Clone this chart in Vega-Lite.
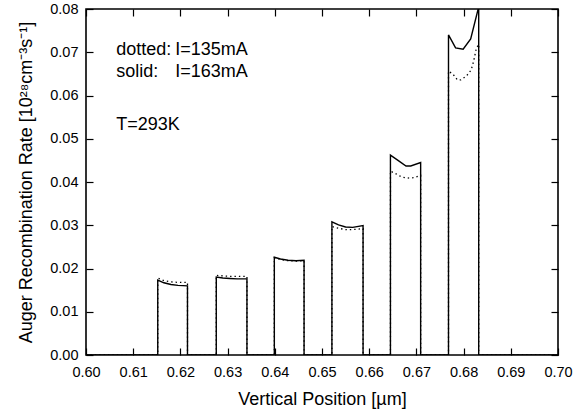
{
  "$schema": "https://vega.github.io/schema/vega-lite/v6.json",
  "autosize": {"type": "none"},
  "padding": {"left": 86, "top": 9, "right": 23, "bottom": 55},
  "width": 472,
  "height": 346,
  "background": "white",
  "config": {
    "view": {"stroke": "black", "strokeWidth": 1.6},
    "axis": {
      "grid": false,
      "domain": false,
      "ticks": true,
      "tickColor": "black",
      "tickWidth": 1.2,
      "tickSize": 7,
      "offset": -7,
      "labelFont": "Liberation Sans",
      "labelFontSize": 14.5,
      "labelColor": "black",
      "titleFont": "Liberation Sans",
      "titleFontSize": 18,
      "titleFontWeight": "normal",
      "titleColor": "black"
    }
  },
  "datasets": {
    "solid": [
      {"i": 0, "x": 0.600, "y": 0},
      {"i": 1, "x": 0.6152, "y": 0},
      {"i": 2, "x": 0.6152, "y": 0.0173},
      {"i": 3, "x": 0.6165, "y": 0.0167},
      {"i": 4, "x": 0.6180, "y": 0.0163},
      {"i": 5, "x": 0.6195, "y": 0.0161},
      {"i": 6, "x": 0.6215, "y": 0.0160},
      {"i": 7, "x": 0.6215, "y": 0},
      {"i": 8, "x": 0.6276, "y": 0},
      {"i": 9, "x": 0.6276, "y": 0.0180},
      {"i": 10, "x": 0.6290, "y": 0.0178},
      {"i": 11, "x": 0.6305, "y": 0.0177},
      {"i": 12, "x": 0.6320, "y": 0.0176},
      {"i": 13, "x": 0.6341, "y": 0.0176},
      {"i": 14, "x": 0.6341, "y": 0},
      {"i": 15, "x": 0.6399, "y": 0},
      {"i": 16, "x": 0.6399, "y": 0.0226},
      {"i": 17, "x": 0.6412, "y": 0.0222},
      {"i": 18, "x": 0.6428, "y": 0.0219},
      {"i": 19, "x": 0.6445, "y": 0.0218},
      {"i": 20, "x": 0.6462, "y": 0.0219},
      {"i": 21, "x": 0.6462, "y": 0},
      {"i": 22, "x": 0.6521, "y": 0},
      {"i": 23, "x": 0.6521, "y": 0.0308},
      {"i": 24, "x": 0.6535, "y": 0.0301},
      {"i": 25, "x": 0.6550, "y": 0.0296},
      {"i": 26, "x": 0.6565, "y": 0.0295},
      {"i": 27, "x": 0.6587, "y": 0.0299},
      {"i": 28, "x": 0.6587, "y": 0},
      {"i": 29, "x": 0.6645, "y": 0},
      {"i": 30, "x": 0.6645, "y": 0.0462},
      {"i": 31, "x": 0.6661, "y": 0.0450},
      {"i": 32, "x": 0.6678, "y": 0.0437},
      {"i": 33, "x": 0.6688, "y": 0.0437},
      {"i": 34, "x": 0.6709, "y": 0.0445},
      {"i": 35, "x": 0.6709, "y": 0},
      {"i": 36, "x": 0.6768, "y": 0},
      {"i": 37, "x": 0.6768, "y": 0.0740},
      {"i": 38, "x": 0.6783, "y": 0.0710},
      {"i": 39, "x": 0.6799, "y": 0.0707},
      {"i": 40, "x": 0.6815, "y": 0.0731},
      {"i": 41, "x": 0.6832, "y": 0.0805},
      {"i": 42, "x": 0.6832, "y": 0},
      {"i": 43, "x": 0.700, "y": 0}
    ],
    "dotted": [
      {"i": 0, "x": 0.600, "y": 0},
      {"i": 1, "x": 0.6152, "y": 0},
      {"i": 2, "x": 0.6152, "y": 0.0178},
      {"i": 3, "x": 0.6165, "y": 0.0172},
      {"i": 4, "x": 0.6180, "y": 0.0169},
      {"i": 5, "x": 0.6195, "y": 0.0168},
      {"i": 6, "x": 0.6215, "y": 0.0168},
      {"i": 7, "x": 0.6215, "y": 0},
      {"i": 8, "x": 0.6276, "y": 0},
      {"i": 9, "x": 0.6276, "y": 0.0184},
      {"i": 10, "x": 0.6290, "y": 0.0183},
      {"i": 11, "x": 0.6305, "y": 0.0182},
      {"i": 12, "x": 0.6320, "y": 0.0182},
      {"i": 13, "x": 0.6341, "y": 0.0182},
      {"i": 14, "x": 0.6341, "y": 0},
      {"i": 15, "x": 0.6399, "y": 0},
      {"i": 16, "x": 0.6399, "y": 0.0225},
      {"i": 17, "x": 0.6412, "y": 0.0221},
      {"i": 18, "x": 0.6428, "y": 0.0218},
      {"i": 19, "x": 0.6445, "y": 0.0217},
      {"i": 20, "x": 0.6462, "y": 0.0218},
      {"i": 21, "x": 0.6462, "y": 0},
      {"i": 22, "x": 0.6521, "y": 0},
      {"i": 23, "x": 0.6521, "y": 0.0297},
      {"i": 24, "x": 0.6535, "y": 0.0293},
      {"i": 25, "x": 0.6550, "y": 0.0290},
      {"i": 26, "x": 0.6565, "y": 0.0290},
      {"i": 27, "x": 0.6587, "y": 0.0292},
      {"i": 28, "x": 0.6587, "y": 0},
      {"i": 29, "x": 0.6645, "y": 0},
      {"i": 30, "x": 0.6645, "y": 0.0425},
      {"i": 31, "x": 0.6655, "y": 0.0420},
      {"i": 32, "x": 0.6668, "y": 0.0412},
      {"i": 33, "x": 0.6680, "y": 0.0409},
      {"i": 34, "x": 0.6695, "y": 0.0410},
      {"i": 35, "x": 0.6709, "y": 0.0415},
      {"i": 36, "x": 0.6709, "y": 0},
      {"i": 37, "x": 0.6768, "y": 0},
      {"i": 38, "x": 0.6768, "y": 0.0656},
      {"i": 39, "x": 0.6777, "y": 0.0650},
      {"i": 40, "x": 0.6787, "y": 0.0636},
      {"i": 41, "x": 0.6794, "y": 0.0636},
      {"i": 42, "x": 0.6806, "y": 0.0645},
      {"i": 43, "x": 0.6816, "y": 0.0659},
      {"i": 44, "x": 0.6821, "y": 0.0678},
      {"i": 45, "x": 0.6827, "y": 0.0709},
      {"i": 46, "x": 0.6832, "y": 0.0718},
      {"i": 47, "x": 0.6832, "y": 0},
      {"i": 48, "x": 0.700, "y": 0}
    ],
    "notes": [
      {"x": 0.6064, "y": 0.0693, "t": "dotted:"},
      {"x": 0.6189, "y": 0.0693, "t": "I=135mA"},
      {"x": 0.6064, "y": 0.0643, "t": "solid:"},
      {"x": 0.6189, "y": 0.0643, "t": "I=163mA"},
      {"x": 0.6064, "y": 0.0521, "t": "T=293K"}
    ]
  },
  "resolve": {"axis": {"x": "independent", "y": "independent"}},
  "layer": [
    {
      "data": {"name": "dotted"},
      "mark": {"type": "line", "color": "black", "strokeWidth": 1.3, "strokeDash": [1.4, 3], "clip": true},
      "encoding": {
        "x": {"field": "x", "type": "quantitative", "scale": {"domain": [0.6, 0.7], "nice": false, "zero": false},
              "axis": {"orient": "bottom", "values": [0.6, 0.61, 0.62, 0.63, 0.64, 0.65, 0.66, 0.67, 0.68, 0.69, 0.7], "format": ".2f", "labelPadding": 10, "title": "Vertical Position [µm]", "titlePadding": 12, "labelFlush": false}},
        "y": {"field": "y", "type": "quantitative", "scale": {"domain": [0, 0.08], "nice": false},
              "axis": {"orient": "left", "values": [0, 0.01, 0.02, 0.03, 0.04, 0.05, 0.06, 0.07, 0.08], "format": ".2f", "labelPadding": 8, "title": "Auger Recombination Rate [10²⁸cm⁻³s⁻¹]", "titlePadding": 14, "labelFlush": false}},
        "order": {"field": "i", "type": "quantitative"}
      }
    },
    {
      "data": {"name": "solid"},
      "mark": {"type": "line", "color": "black", "strokeWidth": 1.4, "clip": true},
      "encoding": {
        "x": {"field": "x", "type": "quantitative",
              "axis": {"orient": "top", "values": [0.6, 0.61, 0.62, 0.63, 0.64, 0.65, 0.66, 0.67, 0.68, 0.69, 0.7], "labels": false, "title": null}},
        "y": {"field": "y", "type": "quantitative",
              "axis": {"orient": "right", "values": [0, 0.01, 0.02, 0.03, 0.04, 0.05, 0.06, 0.07, 0.08], "labels": false, "title": null}},
        "order": {"field": "i", "type": "quantitative"}
      }
    },
    {
      "data": {"name": "notes"},
      "mark": {"type": "text", "align": "left", "baseline": "alphabetic", "font": "Liberation Sans", "fontSize": 18, "color": "black"},
      "encoding": {
        "x": {"field": "x", "type": "quantitative", "axis": null},
        "y": {"field": "y", "type": "quantitative", "axis": null},
        "text": {"field": "t"}
      }
    }
  ]
}
